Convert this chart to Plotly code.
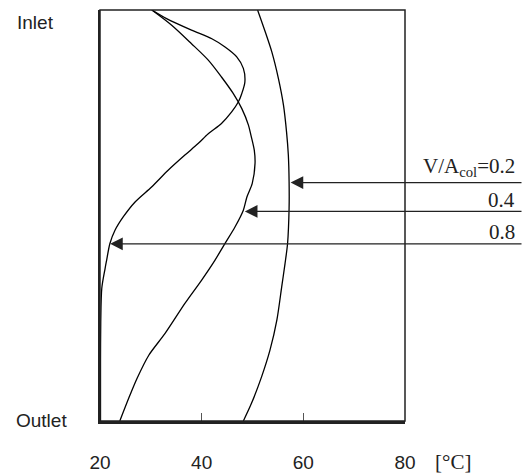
import plotly.graph_objects as go

# Temperature profiles (°C) along relative column height (0 = outlet, 1 = inlet)
pos_02 = [1.0, 0.947, 0.898, 0.833, 0.768, 0.703, 0.647, 0.582, 0.518, 0.432, 0.383, 0.327, 0.246, 0.173, 0.108, 0.043, 0.0]
temp_02 = [51.0, 52.5, 53.8, 55.1, 56.1, 56.7, 57.05, 57.2, 57.2, 56.9, 56.4, 55.75, 54.8, 53.45, 51.8, 49.8, 48.2]

pos_04 = [1.0, 0.963, 0.918, 0.878, 0.837, 0.797, 0.760, 0.720, 0.695, 0.659, 0.627, 0.578, 0.545, 0.513, 0.472, 0.432, 0.391, 0.343, 0.286, 0.213, 0.160, 0.104, 0.063, 0.0]
temp_04 = [30.2, 34.1, 38.0, 41.3, 43.9, 46.2, 47.9, 49.2, 49.7, 50.35, 50.5, 49.95, 48.9, 48.2, 46.55, 44.6, 42.6, 40.0, 36.7, 32.8, 29.6, 27.3, 25.9, 23.9]

pos_08 = [1.0, 0.979, 0.951, 0.930, 0.910, 0.886, 0.858, 0.825, 0.797, 0.776, 0.752, 0.724, 0.699, 0.675, 0.647, 0.610, 0.570, 0.533, 0.497, 0.464, 0.432, 0.391, 0.371, 0.323, 0.241, 0.148, 0.0]
temp_08 = [30.2, 33.1, 38.0, 42.0, 44.6, 46.9, 48.2, 48.5, 47.9, 47.2, 45.9, 43.9, 41.3, 39.3, 36.7, 33.4, 30.2, 26.9, 24.6, 22.95, 21.95, 21.3, 21.0, 20.35, 20.15, 20.1, 20.1]

x_ticks = [20, 40, 60, 80]
labels = ["V/A<sub>col</sub>=0.2", "0.4", "0.8"]
arrow_temp = [57.5, 48.5, 22.0]
arrow_pos = [0.580, 0.510, 0.431]

fig = go.Figure()
for t, p in [(temp_02, pos_02), (temp_04, pos_04), (temp_08, pos_08)]:
    fig.add_trace(go.Scatter(x=t, y=p, mode="lines", line=dict(color="black", width=1.3, shape="spline", smoothing=0.8),
                             showlegend=False, hoverinfo="skip", cliponaxis=False))

# arrows
tail_px = 523
for t, p, lab in zip(arrow_temp, arrow_pos, labels):
    head_px = 100 + (t - 20) / 60 * 305
    fig.add_annotation(x=t, y=p, xref="x", yref="y", ax=tail_px - head_px, ay=0, text="",
                       showarrow=True, arrowhead=2, arrowsize=2.1, arrowwidth=1.2, arrowcolor="#222", standoff=0)

label_y = [0.618, 0.537, 0.460]
for lab, ly in zip(labels, label_y):
    fig.add_annotation(x=1.367, y=ly, xref="paper", yref="paper", text=lab, showarrow=False,
                       xanchor="right", yanchor="middle",
                       font=dict(family="Liberation Serif, Times New Roman, serif", size=21, color="#222"))

fig.add_annotation(x=-0.279, y=0.970, xref="paper", yref="paper", text="Inlet", showarrow=False,
                   xanchor="left", yanchor="middle", font=dict(family="Liberation Sans, Arial, sans-serif", size=19, color="#222"))
fig.add_annotation(x=-0.282, y=0.002, xref="paper", yref="paper", text="Outlet", showarrow=False,
                   xanchor="left", yanchor="middle", font=dict(family="Liberation Sans, Arial, sans-serif", size=19, color="#222"))
fig.add_annotation(x=1.092, y=-0.0997, xref="paper", yref="paper", text="[°C]", showarrow=False,
                   xanchor="left", yanchor="middle", font=dict(family="Liberation Serif, Times New Roman, serif", size=21, color="#222"))

# frame (top/right)
fig.add_shape(type="rect", xref="paper", yref="paper", x0=0, y0=0, x1=1, y1=1,
              line=dict(color="#222", width=1.5), layer="above")

fig.update_layout(
    width=525, height=474,
    margin=dict(l=100, r=120, t=10, b=53),
    paper_bgcolor="white", plot_bgcolor="white",
    xaxis=dict(range=[20, 80], tickvals=x_ticks, ticktext=[str(v) for v in x_ticks],
               ticks="inside", ticklen=8, tickwidth=1, tickcolor="#555",
               showline=True, linecolor="#222", linewidth=2.5, showgrid=False, zeroline=False,
               tickfont=dict(family="Liberation Sans, Arial, sans-serif", size=19, color="#222"),
               ticklabelstandoff=22, automargin=False),
    yaxis=dict(range=[0, 1], showticklabels=False, ticks="", showline=True, linecolor="#222", linewidth=2,
               showgrid=False, zeroline=False, automargin=False),
)

fig.write_html("out.html", config={"displayModeBar": False},
               post_script="document.body.style.margin='0';document.body.style.overflow='hidden';")
